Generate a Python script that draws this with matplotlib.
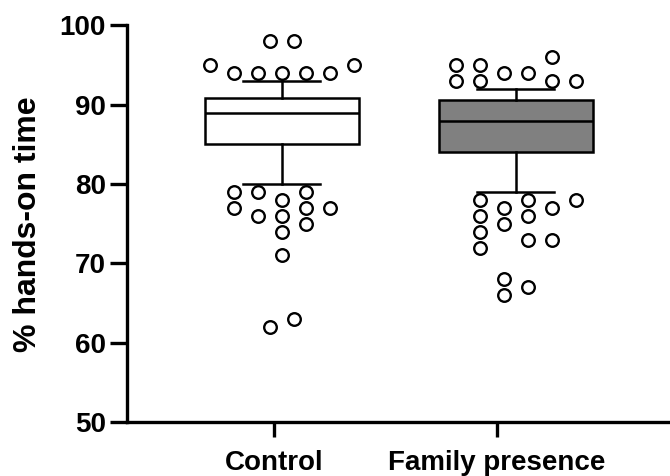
import matplotlib
matplotlib.use("Agg")
import matplotlib.pyplot as plt

plt.rcParams['font.family'] = ['Liberation Sans', 'DejaVu Sans']
plt.rcParams['font.weight'] = 'bold'

# groups and box summaries
groups = ["Control", "Family presence"]
q1 = [85.0, 84.0]
median = [89.0, 88.0]
q3 = [90.8, 90.6]
whisker_low = [80.0, 79.0]
whisker_high = [93.0, 92.0]

# points outside the whiskers, with their lane in the swarm
control_vals = [98, 98, 95, 95, 94, 94, 94, 94, 94,
                79, 79, 79, 78, 77, 77, 77, 76, 76, 75, 74, 71, 62, 63]
control_lane = [-1, 1, -6, 6, -4, -2, 0, 2, 4,
                -4, -2, 2, 0, -4, 2, 4, -2, 0, 2, 0, 0, -1, 1]
family_vals = [96, 95, 95, 94, 94, 93, 93, 93, 93,
               78, 78, 78, 77, 77, 76, 76, 75, 74, 72, 73, 73, 68, 66, 67]
family_lane = [3, -5, -3, -1, 1, -5, -3, 3, 5,
               -3, 1, 5, -1, 3, -3, 1, -1, -3, -3, 1, 3, -1, -1, 1]

tick_pos = [1, 2]
box_pos = [1.036, 2.085]
box_colors = ["white", "#808080"]
lane_step = 0.054

fig = plt.figure(figsize=(6.7, 4.76), dpi=100)
ax = fig.add_axes([0.189, 0.113, 0.811, 0.834])

stats = []
for i in range(2):
    stats.append({"q1": q1[i], "med": median[i], "q3": q3[i],
                  "whislo": whisker_low[i], "whishi": whisker_high[i],
                  "fliers": []})

bp = ax.bxp(stats, positions=box_pos, widths=0.69, capwidths=[0.345, 0.345],
            patch_artist=True, showfliers=False,
            boxprops=dict(linewidth=1.8, edgecolor="black"),
            medianprops=dict(color="black", linewidth=1.8),
            whiskerprops=dict(color="black", linewidth=1.8),
            capprops=dict(color="black", linewidth=1.8))
for patch, c in zip(bp["boxes"], box_colors):
    patch.set_facecolor(c)

for pos, vals, lanes in [(box_pos[0], control_vals, control_lane),
                         (box_pos[1], family_vals, family_lane)]:
    xs = [pos + l * lane_step for l in lanes]
    ax.scatter(xs, vals, s=82, facecolor="white", edgecolor="black",
               linewidth=1.7, zorder=3, clip_on=False)

ax.set_xlim(0.3395, 2.776)
ax.set_ylim(50, 100)
ax.set_yticks([50, 60, 70, 80, 90, 100])
ax.set_xticks(tick_pos)
ax.set_xticklabels(groups)

for s in ["top", "right"]:
    ax.spines[s].set_visible(False)
for s in ["left", "bottom"]:
    ax.spines[s].set_linewidth(2.4)

ax.tick_params(axis="y", length=12, width=2.4, pad=3, labelsize=20)
ax.tick_params(axis="x", length=11, width=2.4, pad=9, labelsize=20)
ax.set_ylabel("% hands-on time", fontsize=23, fontweight="bold", labelpad=12)

fig.savefig("out.png", dpi=100)
